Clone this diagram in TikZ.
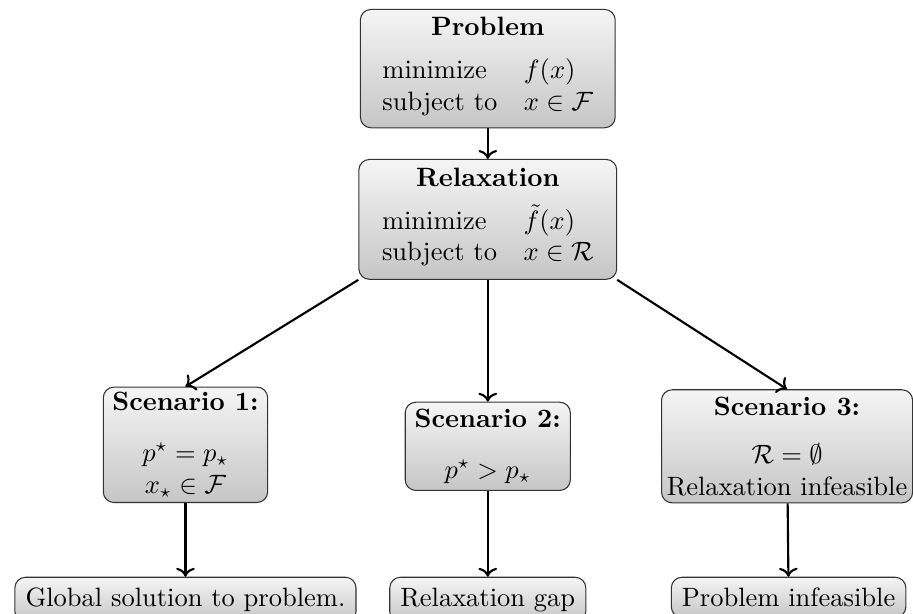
\documentclass[tikz,border=0pt]{standalone}
\usepackage{amsmath,amssymb}
\usepackage{tikz}
\usetikzlibrary{arrows.meta, positioning}

\begin{document}
\begin{tikzpicture}[
    box/.style={draw=black!80, rounded corners, top color=gray!8, bottom color=gray!45, align=center, inner sep=2pt},
    leaf/.style={box, inner sep=4pt, anchor=north},
    every node/.style={font=\normalsize}
]
\useasboundingbox (0,0) rectangle (12.11,8.14);
\node[box, minimum width=3.38cm, minimum height=1.57cm] (problem) at (6.47, 7.23)
    {\textbf{Problem}\\[4pt]\begin{tabular}[t]{@{}l@{\hspace{10pt}}l@{}}
     minimize & $f(x)$\\ subject to & $x \in \mathcal{F}$\end{tabular}};
\node[box, minimum width=3.42cm, minimum height=1.59cm] (relax) at (6.47, 5.23)
    {\textbf{Relaxation}\\[4pt]\begin{tabular}[t]{@{}l@{\hspace{10pt}}l@{}}
     minimize & $\tilde{f}(x)$\\ subject to & $x \in \mathcal{R}$\end{tabular}};
\node[box, minimum width=2.18cm, minimum height=1.53cm] (s1) at (2.46, 2.24)
    {\textbf{Scenario 1:}\\[7pt]$p^\star = p_\star$\\$x_\star \in \mathcal{F}$};
\node[box, minimum width=2.19cm, minimum height=1.17cm] (s2) at (6.47, 2.22)
    {\textbf{Scenario 2:}\\[7pt]$p^\star > p_\star$};
\node[box, minimum width=3.33cm, minimum height=1.50cm] (s3) at (10.44, 2.22)
    {\textbf{Scenario 3:}\\[6pt]$\mathcal{R} = \emptyset$\\Relaxation infeasible};
\node[leaf] (global) at (2.46, 0.49) {Global solution to problem.};
\node[leaf] (gap) at (6.47, 0.49) {Relaxation gap};
\node[leaf] (infeas) at (10.46, 0.49) {Problem infeasible};
\draw[->, thick] (problem) -- (relax);
\draw[->, thick] (relax.south west) -- (s1.north);
\draw[->, thick] (relax) -- (s2);
\draw[->, thick] (relax.south east) -- (s3.north);
\draw[->, thick] (s1) -- (global);
\draw[->, thick] (s2) -- (gap);
\draw[->, thick] (s3) -- (infeas);
\end{tikzpicture}
\end{document}
